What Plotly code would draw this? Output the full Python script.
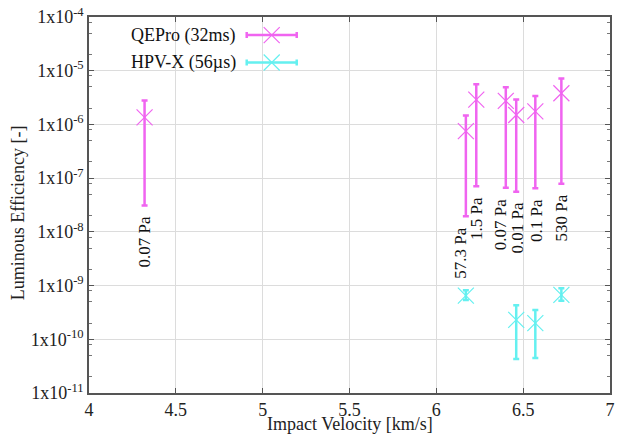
import numpy as np
import plotly.graph_objects as go

# QEPro (32ms) data
q_vel = [4.32, 6.17, 6.23, 6.40, 6.46, 6.57, 6.72]
q_eff = [1.35e-6, 7.5e-7, 2.9e-6, 2.75e-6, 1.5e-6, 1.75e-6, 3.8e-6]
q_hi = [2.8e-6, 1.47e-6, 5.6e-6, 4.9e-6, 2.9e-6, 3.4e-6, 7.2e-6]
q_lo = [3.1e-8, 1.95e-8, 7.1e-8, 6.6e-8, 5.6e-8, 6.5e-8, 7.9e-8]
q_labels = ["0.07 Pa", "57.3 Pa", "1.5 Pa", "0.07 Pa", "0.01 Pa", "0.1 Pa", "530 Pa"]
q_label_shift = [0, -5, 0, -5, 1, 1, 0]

# HPV-X (56us) data
h_vel = [6.17, 6.46, 6.57, 6.72]
h_eff = [6.5e-10, 2.3e-10, 2.0e-10, 6.7e-10]
h_hi = [8.2e-10, 4.3e-10, 3.5e-10, 8.9e-10]
h_lo = [5.4e-10, 4.3e-11, 4.5e-11, 5.2e-10]

y_tickvals = [1e-11, 1e-10, 1e-9, 1e-8, 1e-7, 1e-6, 1e-5, 1e-4]
y_ticktext = ["1x10<sup>-11</sup>", "1x10<sup>-10</sup>", "1x10<sup>-9</sup>", "1x10<sup>-8</sup>",
              "1x10<sup>-7</sup>", "1x10<sup>-6</sup>", "1x10<sup>-5</sup>", "1x10<sup>-4</sup>"]
x_tickvals = [4, 4.5, 5, 5.5, 6, 6.5, 7]
x_ticktext = ["4", "4.5", "5", "5.5", "6", "6.5", "7"]

series_names = ["QEPro (32ms)", "HPV-X (56µs)"]
x_title = "Impact Velocity [km/s]"
y_title = "Luminous Efficiency [-]"
MAG = "#f064f0"
CYA = "#64f0f0"
FONT = "Liberation Serif"

minor_vals = []
for e in range(-11, -4):
    for m in (2, 5, 8):
        minor_vals.append(m * 10.0 ** e)

fig = go.Figure()

def add_series(vel, eff, hi, lo, color):
    eff = np.array(eff); hi = np.array(hi); lo = np.array(lo)
    fig.add_trace(go.Scatter(
        x=vel, y=eff, mode="markers",
        marker=dict(symbol="x-thin-open", size=16, color=color, line=dict(color=color, width=1.2)),
        error_y=dict(type="data", symmetric=False, array=hi - eff, arrayminus=eff - lo,
                     color=color, thickness=2.5, width=3),
        showlegend=False, cliponaxis=False,
    ))

add_series(q_vel, q_eff, q_hi, q_lo, MAG)
add_series(h_vel, h_eff, h_hi, h_lo, CYA)

# legend samples on overlay axes
leg_y = [0.952, 0.879]
for c, yy in zip([MAG, CYA], leg_y):
    fig.add_trace(go.Scatter(
        x=[0.3507], y=[yy], mode="markers", xaxis="x2", yaxis="y2",
        marker=dict(symbol="x-thin-open", size=16, color=c, line=dict(color=c, width=1.2)),
        error_x=dict(type="data", array=[0.048], color=c, thickness=2.5, width=3),
        showlegend=False, hoverinfo="skip",
    ))

annotations = []
for name, yy in zip(series_names, leg_y):
    annotations.append(dict(xref="paper", yref="paper", x=0.286, y=yy, text=name, showarrow=False,
                            xanchor="right", yanchor="middle", font=dict(family=FONT, size=18, color="#111")))

for v, lo, lab, sh in zip(q_vel, q_lo, q_labels, q_label_shift):
    annotations.append(dict(x=v, y=np.log10(lo), text=lab, textangle=-90, showarrow=False,
                            xanchor="center", yanchor="top", yshift=-9, xshift=sh,
                            font=dict(family=FONT, size=17, color="#111")))

# axis titles
annotations.append(dict(xref="paper", yref="paper", x=0.5, y=-0.082, text=x_title, showarrow=False,
                        xanchor="center", yanchor="middle", font=dict(family=FONT, size=18, color="#222")))
annotations.append(dict(xref="paper", yref="paper", x=-0.137, y=0.48, text=y_title, showarrow=False,
                        textangle=-90, xanchor="center", yanchor="middle",
                        font=dict(family=FONT, size=18, color="#222")))

fig.update_layout(
    width=622, height=437,
    margin=dict(l=89, r=12, t=17, b=44),
    paper_bgcolor="white", plot_bgcolor="white",
    font=dict(family=FONT, size=18, color="#222"),
    annotations=annotations,
    shapes=[dict(type="rect", xref="paper", yref="paper", x0=0.003, x1=0.415, y0=0.84, y1=0.997,
                 fillcolor="white", line=dict(width=0), layer="below")],
    xaxis=dict(range=[4, 7], tickvals=x_tickvals, ticktext=x_ticktext, automargin=False,
               showgrid=True, gridcolor="#dcdcdc", gridwidth=1,
               showline=True, linecolor="#555", linewidth=1.5, mirror="ticks",
               ticks="inside", ticklen=5, tickcolor="#555",
               tickfont=dict(family=FONT, size=18, color="#222"),
               zeroline=False),
    yaxis=dict(type="log", range=[-11, -4], tickvals=y_tickvals, ticktext=y_ticktext, automargin=False,
               showgrid=True, gridcolor="#dcdcdc", gridwidth=1,
               showline=True, linecolor="#555", linewidth=1.5, mirror="ticks",
               ticks="inside", ticklen=5, tickcolor="#555",
               minor=dict(tickvals=minor_vals, ticks="inside", ticklen=3, tickcolor="#777", showgrid=False),
               tickfont=dict(family=FONT, size=18, color="#222"),
               zeroline=False),
    xaxis2=dict(overlaying="x", range=[0, 1], visible=False, fixedrange=True),
    yaxis2=dict(overlaying="y", range=[0, 1], visible=False, fixedrange=True),
)

fig.write_html("out.html", config={"displayModeBar": False},
               post_script="document.body.style.margin='0';document.body.style.overflow='hidden';")
